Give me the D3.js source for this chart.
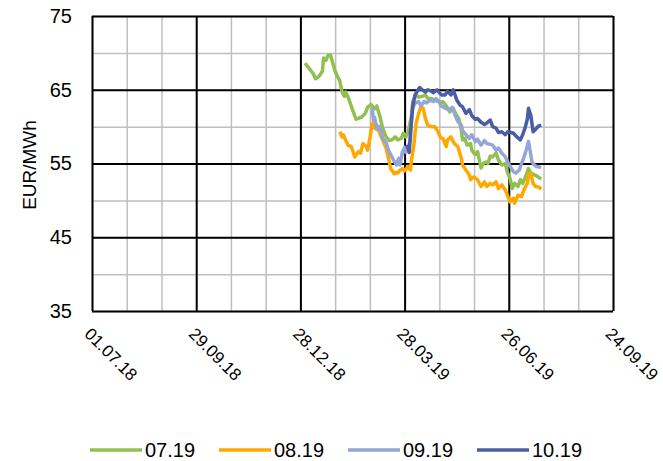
<!DOCTYPE html>
<html>
<head>
<meta charset="utf-8">
<script src="https://cdn.jsdelivr.net/npm/d3@7"></script>
<style>
  html, body { margin: 0; padding: 0; background: #fff; }
  svg { display: block; font-family: "Liberation Sans", Arial, sans-serif; }
</style>
</head>
<body>
<svg id="chart" width="663" height="461"></svg>
<script>
// ---------- data ----------
const seriesNames = ["07.19", "08.19", "09.19", "10.19"];
const seriesColors = ["#92C04F", "#FFA800", "#93A6D6", "#4B5DA6"];

const yTickValues = [35, 45, 55, 65, 75];
const xTickLabels = ["01.07.18", "29.09.18", "28.12.18", "28.03.19", "26.06.19", "24.09.19"];
const xDomain = ["2018-07-01", "2019-09-24"];

const data0719 = [
  ["2019-01-01",68.6],["2019-01-04",68.0],["2019-01-08",67.2],["2019-01-10",66.5],["2019-01-13",66.8],
  ["2019-01-16",67.5],["2019-01-17",69.3],["2019-01-19",69.0],["2019-01-21",69.7],["2019-01-23",69.7],
  ["2019-01-25",68.6],["2019-01-27",67.5],["2019-01-29",66.8],["2019-01-31",66.2],["2019-02-02",64.7],
  ["2019-02-04",64.1],["2019-02-05",64.7],["2019-02-07",64.1],["2019-02-09",63.2],["2019-02-11",62.3],
  ["2019-02-14",61.0],["2019-02-17",61.2],["2019-02-19",61.3],["2019-02-22",61.8],["2019-02-24",62.6],
  ["2019-02-27",63.0],["2019-03-02",62.4],["2019-03-04",62.8],["2019-03-07",61.2],["2019-03-09",59.8],
  ["2019-03-12",58.6],["2019-03-15",58.1],["2019-03-17",58.2],["2019-03-20",58.6],["2019-03-22",58.2],
  ["2019-03-25",58.4],["2019-03-27",59.1],["2019-03-29",58.6],["2019-03-31",59.3],["2019-04-03",61.5],
  ["2019-04-04",63.4],["2019-04-07",64.3],["2019-04-09",64.0],["2019-04-12",64.1],["2019-04-15",64.3],
  ["2019-04-17",63.8],["2019-04-20",63.8],["2019-04-23",63.6],["2019-04-26",63.4],["2019-04-28",63.2],
  ["2019-04-30",63.4],["2019-05-03",62.8],["2019-05-06",62.0],["2019-05-09",62.5],["2019-05-11",61.8],
  ["2019-05-14",61.0],["2019-05-16",59.5],["2019-05-17",58.2],["2019-05-19",58.4],["2019-05-21",57.5],
  ["2019-05-24",57.7],["2019-05-25",56.8],["2019-05-28",56.2],["2019-05-30",56.6],["2019-05-31",55.9],
  ["2019-06-02",54.4],["2019-06-04",55.0],["2019-06-06",55.2],["2019-06-08",55.0],["2019-06-10",56.0],
  ["2019-06-12",55.9],["2019-06-15",56.4],["2019-06-17",55.5],["2019-06-20",54.8],["2019-06-23",55.0],
  ["2019-06-25",53.7],["2019-06-27",53.0],["2019-06-29",51.6],["2019-07-01",52.3],["2019-07-04",51.9],
  ["2019-07-06",52.8],["2019-07-08",52.3],["2019-07-11",53.4],["2019-07-13",54.3],["2019-07-15",53.7],
  ["2019-07-19",53.4],["2019-07-21",53.2],["2019-07-24",52.9]
];

const data0819 = [
  ["2019-01-31",59.3],["2019-02-02",58.6],["2019-02-03",58.9],["2019-02-05",58.2],["2019-02-07",57.5],
  ["2019-02-10",57.3],["2019-02-11",56.8],["2019-02-13",55.9],["2019-02-16",56.6],["2019-02-18",56.4],
  ["2019-02-20",57.7],["2019-02-23",57.3],["2019-02-24",56.8],["2019-02-26",58.4],["2019-02-28",60.5],
  ["2019-03-02",59.8],["2019-03-04",60.2],["2019-03-07",58.9],["2019-03-09",58.2],["2019-03-12",57.1],
  ["2019-03-14",55.8],["2019-03-16",54.3],["2019-03-19",53.6],["2019-03-21",53.8],["2019-03-22",53.7],
  ["2019-03-24",54.1],["2019-03-26",54.3],["2019-03-28",54.0],["2019-03-31",54.6],["2019-04-02",54.1],
  ["2019-04-03",55.5],["2019-04-05",57.5],["2019-04-07",60.5],["2019-04-09",61.7],["2019-04-11",62.7],
  ["2019-04-13",62.5],["2019-04-15",61.1],["2019-04-17",60.2],["2019-04-20",60.0],["2019-04-23",60.0],
  ["2019-04-26",59.3],["2019-04-28",58.5],["2019-04-30",58.4],["2019-05-03",57.3],["2019-05-04",58.2],
  ["2019-05-07",58.6],["2019-05-10",57.7],["2019-05-13",57.3],["2019-05-16",55.7],["2019-05-17",54.8],
  ["2019-05-20",54.1],["2019-05-23",53.4],["2019-05-24",52.8],["2019-05-27",53.2],["2019-05-30",52.8],
  ["2019-06-02",51.9],["2019-06-05",52.5],["2019-06-07",51.9],["2019-06-10",52.3],["2019-06-12",52.1],
  ["2019-06-15",52.5],["2019-06-17",51.6],["2019-06-20",52.1],["2019-06-23",51.4],["2019-06-25",50.6],
  ["2019-06-27",49.8],["2019-06-30",50.3],["2019-07-01",49.6],["2019-07-04",50.7],["2019-07-07",50.5],
  ["2019-07-09",51.4],["2019-07-12",52.3],["2019-07-13",53.5],["2019-07-15",53.6],["2019-07-17",52.3],
  ["2019-07-19",51.9],["2019-07-22",51.8],["2019-07-24",51.5]
];

const data0919 = [
  ["2019-02-28",62.5],["2019-03-01",60.9],["2019-03-02",61.3],["2019-03-04",59.6],["2019-03-06",60.0],
  ["2019-03-08",59.3],["2019-03-09",58.4],["2019-03-12",57.9],["2019-03-14",56.8],["2019-03-16",56.2],
  ["2019-03-19",55.3],["2019-03-21",54.8],["2019-03-23",55.7],["2019-03-24",54.8],["2019-03-26",56.5],
  ["2019-03-28",57.2],["2019-03-29",56.5],["2019-03-31",57.3],["2019-04-02",58.0],["2019-04-03",61.0],
  ["2019-04-04",62.5],["2019-04-06",63.2],["2019-04-09",63.4],["2019-04-11",62.8],["2019-04-14",63.4],
  ["2019-04-16",63.2],["2019-04-19",63.6],["2019-04-22",63.4],["2019-04-24",63.8],["2019-04-27",63.4],
  ["2019-04-28",62.9],["2019-04-30",62.7],["2019-05-02",62.5],["2019-05-05",62.3],["2019-05-08",62.6],
  ["2019-05-10",61.8],["2019-05-13",60.7],["2019-05-16",60.2],["2019-05-17",59.5],["2019-05-20",58.9],
  ["2019-05-23",58.4],["2019-05-25",58.9],["2019-05-28",58.0],["2019-05-30",58.3],["2019-06-02",57.5],
  ["2019-06-05",58.1],["2019-06-07",57.7],["2019-06-10",57.6],["2019-06-12",57.5],["2019-06-15",56.8],
  ["2019-06-17",57.1],["2019-06-20",56.4],["2019-06-23",55.9],["2019-06-25",55.2],["2019-06-28",54.4],
  ["2019-06-30",53.9],["2019-07-02",53.7],["2019-07-05",54.1],["2019-07-07",55.0],["2019-07-09",55.8],
  ["2019-07-11",56.8],["2019-07-13",58.0],["2019-07-14",57.1],["2019-07-16",55.2],["2019-07-18",54.8],
  ["2019-07-20",54.6],["2019-07-24",54.5]
];

const data1019 = [
  ["2019-03-30",57.5],["2019-04-01",56.5],["2019-04-02",59.0],["2019-04-04",62.7],["2019-04-06",64.3],
  ["2019-04-08",64.8],["2019-04-10",65.3],["2019-04-13",64.9],["2019-04-15",64.7],["2019-04-17",65.0],
  ["2019-04-20",64.8],["2019-04-22",64.6],["2019-04-25",65.0],["2019-04-27",64.6],["2019-04-29",64.3],
  ["2019-05-02",64.3],["2019-05-04",64.8],["2019-05-07",64.3],["2019-05-09",65.0],["2019-05-11",64.1],
  ["2019-05-12",63.6],["2019-05-15",62.9],["2019-05-17",62.7],["2019-05-20",61.8],["2019-05-23",62.3],
  ["2019-05-25",61.5],["2019-05-28",61.0],["2019-05-30",61.1],["2019-06-02",60.6],["2019-06-05",60.3],
  ["2019-06-07",60.5],["2019-06-10",60.9],["2019-06-12",60.0],["2019-06-15",59.8],["2019-06-17",59.2],
  ["2019-06-20",59.3],["2019-06-23",58.9],["2019-06-25",59.3],["2019-06-28",59.2],["2019-06-30",59.1],
  ["2019-07-03",58.6],["2019-07-06",58.2],["2019-07-08",58.9],["2019-07-10",59.8],["2019-07-12",61.0],
  ["2019-07-13",62.5],["2019-07-15",61.5],["2019-07-17",59.3],["2019-07-19",59.6],["2019-07-20",59.8],
  ["2019-07-22",60.1],["2019-07-24",60.2]
];

const allSeries = [data0719, data0819, data0919, data1019];

// ---------- layout ----------
const parse = d3.timeParse("%Y-%m-%d");
const L = 92, R = 613, T = 16, B = 311;
const svg = d3.select("#chart");

const x = d3.scaleTime().domain(xDomain.map(parse)).range([L, R]);
const y = d3.scaleLinear().domain([35, 75]).range([B, T]);

const start = parse(xDomain[0]);
const minorDates = d3.range(0, 451, 30).map(d => d3.timeDay.offset(start, d));
const majorDates = d3.range(0, 451, 90).map(d => d3.timeDay.offset(start, d));
const minorY = d3.range(35, 76, 5);

// minor gridlines (gray)
const gridG = svg.append("g");
gridG.append("g")
  .attr("transform", `translate(0,${B})`)
  .call(d3.axisBottom(x).tickValues(minorDates).tickSize(-(B - T)).tickFormat(""))
  .call(g => g.select(".domain").remove())
  .call(g => g.selectAll("line").attr("stroke", "#BFBFBF").attr("stroke-width", 1.5));
gridG.append("g")
  .attr("transform", `translate(${L},0)`)
  .call(d3.axisLeft(y).tickValues(minorY).tickSize(-(R - L)).tickFormat(""))
  .call(g => g.select(".domain").remove())
  .call(g => g.selectAll("line").attr("stroke", "#BFBFBF").attr("stroke-width", 1.5));

// major gridlines (black)
gridG.append("g")
  .attr("transform", `translate(0,${B})`)
  .call(d3.axisBottom(x).tickValues(majorDates).tickSize(-(B - T)).tickFormat(""))
  .call(g => g.select(".domain").remove())
  .call(g => g.selectAll("line").attr("stroke", "#000").attr("stroke-width", 2));
gridG.append("g")
  .attr("transform", `translate(${L},0)`)
  .call(d3.axisLeft(y).tickValues(yTickValues).tickSize(-(R - L)).tickFormat(""))
  .call(g => g.select(".domain").remove())
  .call(g => g.selectAll("line").attr("stroke", "#000").attr("stroke-width", 2));

// y tick labels
svg.append("g")
  .attr("transform", `translate(${L},0)`)
  .call(d3.axisLeft(y).tickValues(yTickValues).tickSize(0).tickPadding(20).tickFormat(d => String(d)))
  .call(g => g.select(".domain").remove())
  .call(g => g.selectAll("text").attr("font-size", 20).attr("fill", "#000")
    .attr("font-family", "Liberation Sans, Arial, sans-serif"));

// x tick labels, rotated
const xl = svg.append("g")
  .attr("transform", `translate(0,${B})`)
  .call(d3.axisBottom(x).tickValues(majorDates).tickSize(0).tickFormat((d, i) => xTickLabels[i]))
  .call(g => g.select(".domain").remove());
xl.selectAll("text")
  .attr("font-size", 17).attr("fill", "#000")
  .attr("font-family", "Liberation Sans, Arial, sans-serif")
  .attr("text-anchor", "start")
  .attr("dy", null)
  .attr("y", 0)
  .attr("transform", "translate(-9,24) rotate(45)");

// y axis title
svg.append("text")
  .attr("transform", "translate(36,165) rotate(-90)")
  .attr("text-anchor", "middle")
  .attr("font-size", 19)
  .attr("fill", "#000")
  .text("EUR/MWh");

// series lines
const line = d3.line().x(d => x(parse(d[0]))).y(d => y(d[1]));
svg.append("g").selectAll("path")
  .data(allSeries)
  .join("path")
  .attr("d", line)
  .attr("fill", "none")
  .attr("stroke", (d, i) => seriesColors[i])
  .attr("stroke-width", 3.5)
  .attr("stroke-linejoin", "round");

// legend
const legendX = [90, 219, 348, 477];
const lg = svg.append("g");
seriesNames.forEach((n, i) => {
  lg.append("line")
    .attr("x1", legendX[i]).attr("x2", legendX[i] + 52)
    .attr("y1", 450).attr("y2", 450)
    .attr("stroke", seriesColors[i]).attr("stroke-width", 3.5);
  lg.append("text")
    .attr("x", legendX[i] + 55).attr("y", 457)
    .attr("font-size", 20).attr("fill", "#000")
    .text(n);
});
</script>
</body>
</html>
